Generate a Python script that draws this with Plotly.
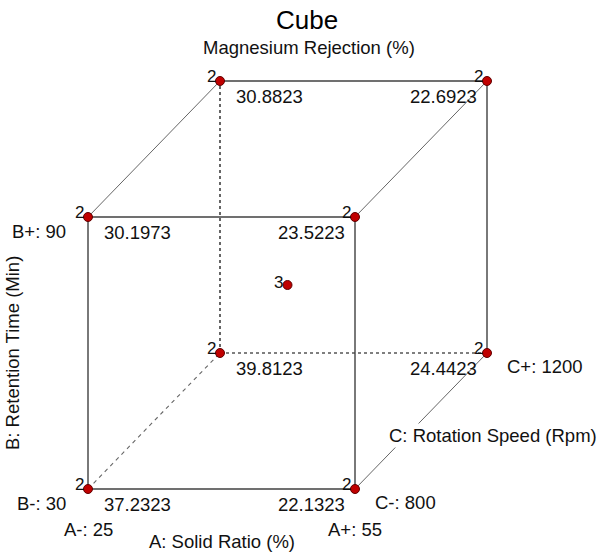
import plotly.graph_objects as go

# Factor levels (coded) and their actual settings
a_levels = [-1, 1]
b_levels = [-1, 1]
c_levels = [-1, 1]
a_names = ["A-: 25", "A+: 55"]
b_names = ["B-: 30", "B+: 90"]
c_names = ["C-: 800", "C+: 1200"]

# Predicted responses at each corner, keyed by (A, B, C)
corner_a = [-1, 1, -1, 1, -1, 1, -1, 1]
corner_b = [-1, -1, 1, 1, -1, -1, 1, 1]
corner_c = [-1, -1, -1, -1, 1, 1, 1, 1]
corner_value = [37.2323, 22.1323, 30.1973, 23.5223,
                39.8123, 24.4423, 30.8823, 22.6923]
corner_runs = [2, 2, 2, 2, 2, 2, 2, 2]
center_runs = 3

# Oblique projection of the coded cube onto the page
OX, OY = 287.5, 285.0
SA, SB = 133.5, 136.0
CX, CY = 66.0, 68.0


def proj(a, b, c):
    return OX + SA * a + CX * c, OY - SB * b - CY * c


fig = go.Figure()

FRONT = "#404040"
DEPTH = "#666666"


def edge(p, q, color, width, dash="solid"):
    (x0, y0), (x1, y1) = proj(*p), proj(*q)
    fig.add_trace(go.Scatter(x=[x0, x1], y=[y0, y1], mode="lines",
                             line=dict(color=color, width=width, dash=dash),
                             hoverinfo="skip", showlegend=False))


# back face: hidden edges dashed
edge((-1, -1, 1), (-1, 1, 1), "#000000", 1.2, "3px,3px")
edge((-1, -1, 1), (1, -1, 1), "#000000", 1.2, "3px,3px")
edge((-1, 1, 1), (1, 1, 1), FRONT, 1.4)
edge((1, -1, 1), (1, 1, 1), FRONT, 1.4)
# depth connectors
edge((-1, -1, -1), (-1, -1, 1), "#666666", 1.1, "4px,4px")
edge((-1, 1, -1), (-1, 1, 1), DEPTH, 1)
edge((1, 1, -1), (1, 1, 1), DEPTH, 1)
edge((1, -1, -1), (1, -1, 1), DEPTH, 1)
# front face
edge((-1, -1, -1), (1, -1, -1), FRONT, 1.4)
edge((-1, 1, -1), (1, 1, -1), FRONT, 1.4)
edge((-1, -1, -1), (-1, 1, -1), FRONT, 1.4)
edge((1, -1, -1), (1, 1, -1), FRONT, 1.4)

# design points
px, py = [], []
for a, b, c in zip(corner_a, corner_b, corner_c):
    x, y = proj(a, b, c)
    px.append(x)
    py.append(y)
cx, cy = proj(0, 0, 0)
px.append(cx)
py.append(cy)
fig.add_trace(go.Scatter(x=px, y=py, mode="markers",
                         marker=dict(size=9, color="#c00000",
                                     line=dict(color="#600000", width=1)),
                         hoverinfo="skip", showlegend=False))

FONT = "Liberation Sans, Arial, sans-serif"
FS = 18.5
ann = []

# run counts and predicted values at the corners
for a, b, c, v, n in zip(corner_a, corner_b, corner_c, corner_value, corner_runs):
    x, y = proj(a, b, c)
    ann.append(dict(x=x, y=y, text=str(n), showarrow=False, xanchor="right",
                    yanchor="middle", xshift=-2, yshift=5,
                    font=dict(size=17, color="#111111", family=FONT)))
    ann.append(dict(x=x, y=y, text=f"{v:.4f}", showarrow=False,
                    xanchor="left" if a < 0 else "right", yanchor="middle",
                    xshift=14 if a < 0 else -8, yshift=-15,
                    font=dict(size=FS, color="#111111", family=FONT)))
ann.append(dict(x=cx, y=cy, text=str(center_runs), showarrow=False,
                xanchor="right", yanchor="middle", xshift=-3, yshift=3,
                font=dict(size=17, color="#111111", family=FONT)))

# factor level labels
for a, name in zip(a_levels, a_names):
    x, y = proj(a, -1, -1)
    ann.append(dict(x=x, y=y, text=name, showarrow=False, xanchor="center",
                    yanchor="middle", yshift=-40,
                    font=dict(size=FS, color="#111111", family=FONT)))
for b, name in zip(b_levels, b_names):
    x, y = proj(-1, b, -1)
    ann.append(dict(x=x, y=y, text=name, showarrow=False, xanchor="right",
                    yanchor="middle", xshift=-20, yshift=-14,
                    font=dict(size=FS, color="#111111", family=FONT)))
for c, name in zip(c_levels, c_names):
    x, y = proj(1, -1, c)
    ann.append(dict(x=x, y=y, text=name, showarrow=False, xanchor="left",
                    yanchor="middle", xshift=18, yshift=-13,
                    font=dict(size=FS, color="#111111", family=FONT)))

# factor names
xa, ya = proj(0, -1, -1)
ann.append(dict(x=xa, y=ya, text="A: Solid Ratio (%)", showarrow=False,
                xanchor="center", yanchor="middle", yshift=-52,
                font=dict(size=FS, color="#111111", family=FONT)))
xb, yb = proj(-1, 0, -1)
ann.append(dict(x=12, y=yb, text="B: Retention Time (Min)", showarrow=False,
                textangle=-90, xanchor="center", yanchor="middle",
                font=dict(size=FS, color="#111111", family=FONT)))
xc, yc = proj(1, -1, 0)
ann.append(dict(x=xc, y=yc, text="C: Rotation Speed (Rpm)", showarrow=False,
                xanchor="left", yanchor="middle", xshift=-34, yshift=-14,
                bgcolor="white",
                font=dict(size=FS, color="#111111", family=FONT)))

# titles
ann.append(dict(x=307, y=20, text="Cube", showarrow=False, xanchor="center",
                yanchor="middle", font=dict(size=26, color="#000000", family=FONT)))
ann.append(dict(x=309, y=47, text="Magnesium Rejection (%)", showarrow=False,
                xanchor="center", yanchor="middle",
                font=dict(size=FS, color="#111111", family=FONT)))

fig.update_layout(
    width=600, height=554,
    margin=dict(l=0, r=0, t=0, b=0),
    paper_bgcolor="white", plot_bgcolor="white",
    xaxis=dict(range=[0, 600], visible=False, fixedrange=True),
    yaxis=dict(range=[554, 0], visible=False, fixedrange=True),
    annotations=ann,
)

fig.write_html("out.html")
